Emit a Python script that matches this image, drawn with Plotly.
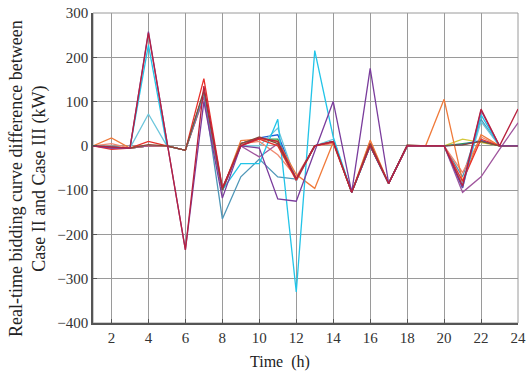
import plotly.graph_objects as go

hours = list(range(1, 25))

s_brown   = [0, -3, -5, 3, 0, -10, 125, -100, 5, 20, 5, -75, 0, 10, -105, 5, -85, 2, 0, 0, 2, 10, 0, 0]
s_red     = [0, -8, -5, 10, 0, -10, 152, -95, 0, 15, 0, -78, 0, 8, -105, 5, -85, 0, 0, 0, -80, 15, 0, 0]
s_orange  = [0, 18, -5, 0, 0, -10, 110, -100, 12, 15, 10, -65, -96, 8, -105, 13, -85, 0, 0, 105, -80, 25, 0, 0]
s_salmon  = [0, 5, -5, 0, 0, -10, 115, -100, 5, 10, -20, -70, 0, 5, -105, 10, -85, 0, 0, 0, -60, 20, 0, 0]
s_crimson = [0, -3, -5, 255, 10, -235, 135, -95, 0, 18, 10, -75, 0, 10, -105, 0, -85, 0, 0, 0, -90, 83, 0, 83]
s_purple  = [0, -5, -5, 258, 10, -235, 100, -118, 0, -5, -120, -125, -12, 100, -105, 175, -85, 0, 0, 0, -95, 80, 0, 0]
s_mauve   = [0, -5, -5, 0, 0, -10, 110, -100, 0, -25, 5, -75, 0, 10, -105, 0, -85, 0, 0, 0, -105, -70, -8, 52]
s_cyan    = [0, -3, -5, 228, 0, -10, 120, -100, -40, -40, 60, -330, 215, 20, -105, 0, -85, 0, 0, 0, -95, 70, 0, 0]
s_lcyan   = [0, -3, -5, 72, 0, -10, 120, -100, 0, 0, 40, -80, 0, 15, -105, 0, -85, 0, 0, 0, -85, 55, 0, 0]
s_steel   = [0, -3, -5, 0, 0, -10, 120, -165, -70, -30, -70, -75, 0, 10, -105, 0, -85, 0, 0, 0, -70, 60, 0, 0]
s_green   = [0, -3, -5, 0, 0, -10, 120, -100, 5, 15, 15, -75, 0, 10, -105, 0, -85, 0, 0, 0, 5, 10, 0, 0]
s_yellow  = [0, -3, -5, 0, 0, -10, 118, -100, 5, 18, 10, -75, 0, 10, -105, 0, -85, 0, 0, 0, 15, 8, 0, 0]
s_blue    = [0, -3, -5, 0, 0, -10, 120, -100, 5, 18, 25, -75, 0, 10, -105, 0, -85, 0, 0, 0, 3, 12, 0, 0]

x_ticks = list(range(2, 25, 2))
y_ticks = list(range(-400, 301, 100))

x_title = "Time  (h)"
y_title = "Real-time bidding curve difference between<br>Case II and Case III (kW)"

series = [
    (s_yellow, "#D4C83A"),
    (s_green, "#2E9E4A"),
    (s_blue, "#1F5FD6"),
    (s_steel, "#4F97B8"),
    (s_lcyan, "#6CC6DC"),
    (s_salmon, "#F08A70"),
    (s_orange, "#F07A3A"),
    (s_mauve, "#A0569E"),
    (s_cyan, "#22C4E8"),
    (s_red, "#E8302A"),
    (s_brown, "#8A4B36"),
    (s_purple, "#7A3C9C"),
    (s_crimson, "#B8213E"),
]

fig = go.Figure()
for vals, col in series:
    fig.add_trace(go.Scatter(x=hours, y=vals, mode="lines",
                             line=dict(color=col, width=1.3), showlegend=False))

font_family = "Liberation Serif"
tick_font = dict(family=font_family, size=15, color="#333")
fig.update_layout(
    width=526, height=378,
    margin=dict(l=93, r=8, t=13, b=55, autoexpand=False),
    paper_bgcolor="white", plot_bgcolor="white",
    font=dict(family=font_family, size=15, color="#222"),
    xaxis=dict(range=[1, 24], tickvals=x_ticks, automargin=False,
               tickfont=tick_font,
               showgrid=True, gridcolor="#9a9a9a", gridwidth=1,
               showline=True, linecolor="#555", linewidth=1.5, mirror=False,
               ticks="inside", ticklen=4, tickcolor="#555",
               zeroline=False),
    yaxis=dict(range=[-400, 300], tickvals=y_ticks, automargin=False,
               tickfont=tick_font,
               showgrid=True, gridcolor="#9a9a9a", gridwidth=1,
               showline=True, linecolor="#555", linewidth=1.5,
               ticks="inside", ticklen=4, tickcolor="#555",
               zeroline=False),
    shapes=[dict(type="rect", xref="paper", yref="paper", x0=0, y0=0, x1=1, y1=1,
                 line=dict(color="#9a9a9a", width=1), layer="below")],
    annotations=[
        dict(text=x_title, xref="paper", yref="paper", x=0.44, y=-0.126,
             xanchor="center", yanchor="middle", showarrow=False,
             font=dict(family=font_family, size=16, color="#222")),
        dict(text=y_title, xref="paper", yref="paper", x=-0.153, y=0.468,
             xanchor="center", yanchor="middle", showarrow=False, textangle=-90,
             font=dict(family=font_family, size=18, color="#222")),
    ],
)

fig.write_html("out.html",
               config={"displayModeBar": False},
               post_script="document.body.style.margin='0px';"
                           "document.documentElement.style.overflow='hidden';")
